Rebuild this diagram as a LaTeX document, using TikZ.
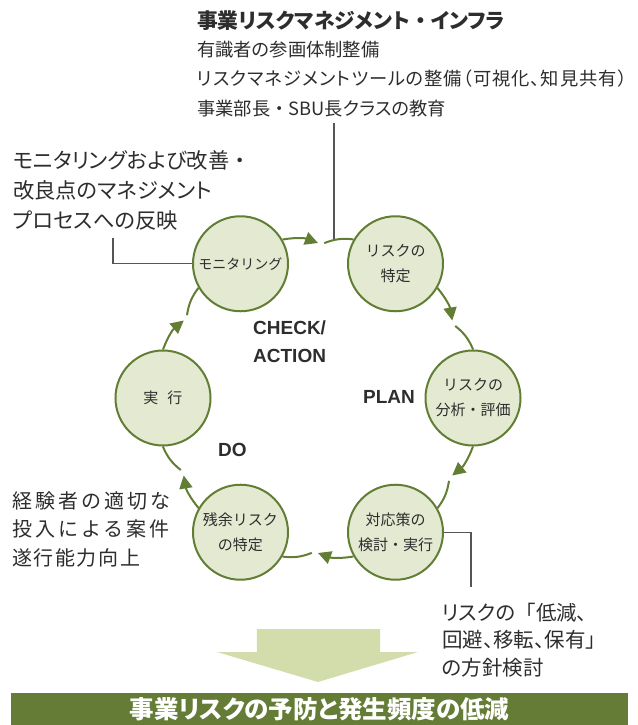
\documentclass[tikz,border=0pt]{standalone}
\usepackage{fontspec}
\usepackage{xcolor}
\setmainfont{Noto Sans CJK JP}
\newfontfamily\jpprop{Noto Sans CJK JP}[RawFeature=+palt]
\newfontfamily\jpfull{Noto Sans CJK JP}
\newfontfamily\phasefont{Liberation Sans}
\newcommand\fullw[1]{{\jpfull #1}}
\usetikzlibrary{positioning, arrows.meta}

\definecolor{ringgreen}{RGB}{98,125,52}
\definecolor{stagefill}{RGB}{228,234,210}
\definecolor{palegreen}{RGB}{210,221,171}
\definecolor{bannergreen}{RGB}{100,124,53}
\definecolor{leadgray}{RGB}{85,85,85}
\definecolor{ink}{RGB}{45,45,45}

\begin{document}
\begin{tikzpicture}[x=1pt,y=1pt,>={Triangle[length=13pt,width=13pt]},
    ring/.style={draw=ringgreen,line width=2pt},
    stage/.style={circle,draw=ringgreen,fill=stagefill,line width=2pt,minimum size=95pt,
        inner sep=0pt,align=center,text=ink,font=\fontsize{15}{25}\selectfont},
    lead/.style={draw=leadgray,line width=1.2pt},
    note/.style={anchor=west,align=left,inner sep=0pt,text=ink},
    phase/.style={anchor=west,align=left,inner sep=0pt,text=ink,
        font=\phasefont\bfseries\fontsize{19}{28}\selectfont}]
    \useasboundingbox (-318,-327) rectangle (319,398);

    % PDCA ring
    \node[stage] (mon)   at (120:155)  {\fontsize{14}{25}\selectfont モニタリング};
    \node[stage] (iden)  at (60:155)   {リスクの\\特定};
    \node[stage] (eval)  at (0:155)    {リスクの\\分析・評価};
    \node[stage] (resp)  at (-60:155)  {対応策の\\検討・実行};
    \node[stage] (resid) at (-120:155) {残余リスク\\の特定};
    \node[stage] (exec)  at (180:155)  {実\hspace{9pt}行};

    \foreach \s/\t/\a/\n in {mon/iden/90/1,iden/eval/30/2,eval/resp/-30/3,
                             resp/resid/-90/4,resid/exec/-150/5,exec/mon/150/6} {
        \coordinate (tip\n) at (\a:155);
        \coordinate (gap\n) at (\a-2.3:155);
        \draw[ring,->] (\s) to[bend left=15] (tip\n);
        \draw[ring] (gap\n) to[bend left=14] (\t);
    }

    \node[phase] (check) at (-65,56) {CHECK/\\ACTION};
    \node[phase] (plan)  at (45,1.5) {PLAN};
    \node[phase] (do)    at (-100,-52) {DO};

    % notes
    \node[note,font=\jpprop\bfseries\fontsize{20.8}{24}\selectfont] (infra) at (-121,377)
        {事業リスクマネジメント\fullw{・}インフラ};
    \node[note,font=\jpprop\fontsize{18.3}{29.5}\selectfont] (infrabody) at (-121,319)
        {有識者の参画体制整備\\
         {\addfontfeature{LetterSpace=5}リスクマネジメントツールの整備（可視化、知見共有）}\\
         事業部長\fullw{・}SBU長クラスの教育};
    \node[note,font=\jpprop\fontsize{21.3}{30}\selectfont] (improve) at (-305,208)
        {モニタリングおよび改善\fullw{・}\\改良点のマネジメント\\プロセスへの反映};
    \node[note,font=\fontsize{20}{28.5}\selectfont] (staff) at (-306,-131)
        {{\addfontfeature{LetterSpace=15}経験者の適切な}\\
         {\addfontfeature{LetterSpace=15}投入による案件}\\
         {\addfontfeature{LetterSpace=8}遂行能力向上}};
    \node[note,font=\jpprop\fontsize{20.5}{27.5}\selectfont] (policy) at (124,-242)
        {リスクの\fullw{「}低減、\\回避、移転、保有」\\の方針検討};

    % leader lines
    \coordinate (infrastart) at ([yshift=-6pt]infrabody.south);
    \coordinate (infraend) at (16,159);
    \draw[lead] (infrastart -| infraend) -- (infraend);
    \coordinate (improveend) at (-205,160);
    \draw[lead] (improveend) |- (mon);
    \coordinate (policyend) at (153,-189);
    \draw[lead] (resp) -| (policyend);

    % result
    \fill[palegreen] (-61,-231) -- (62,-231) -- (62,-254) -- (100,-254)
        -- (0,-284) -- (-101,-254) -- (-61,-254) -- cycle;
    \node[fill=bannergreen,minimum width=617pt,minimum height=32pt,inner sep=0pt,
        text=white,font=\jpprop\bfseries\fontsize{24.5}{24.5}\selectfont] (goal) at (1.5,-311)
        {\raisebox{-3pt}{事業リスクの予防と発生頻度の低減}};
\end{tikzpicture}
\end{document}
